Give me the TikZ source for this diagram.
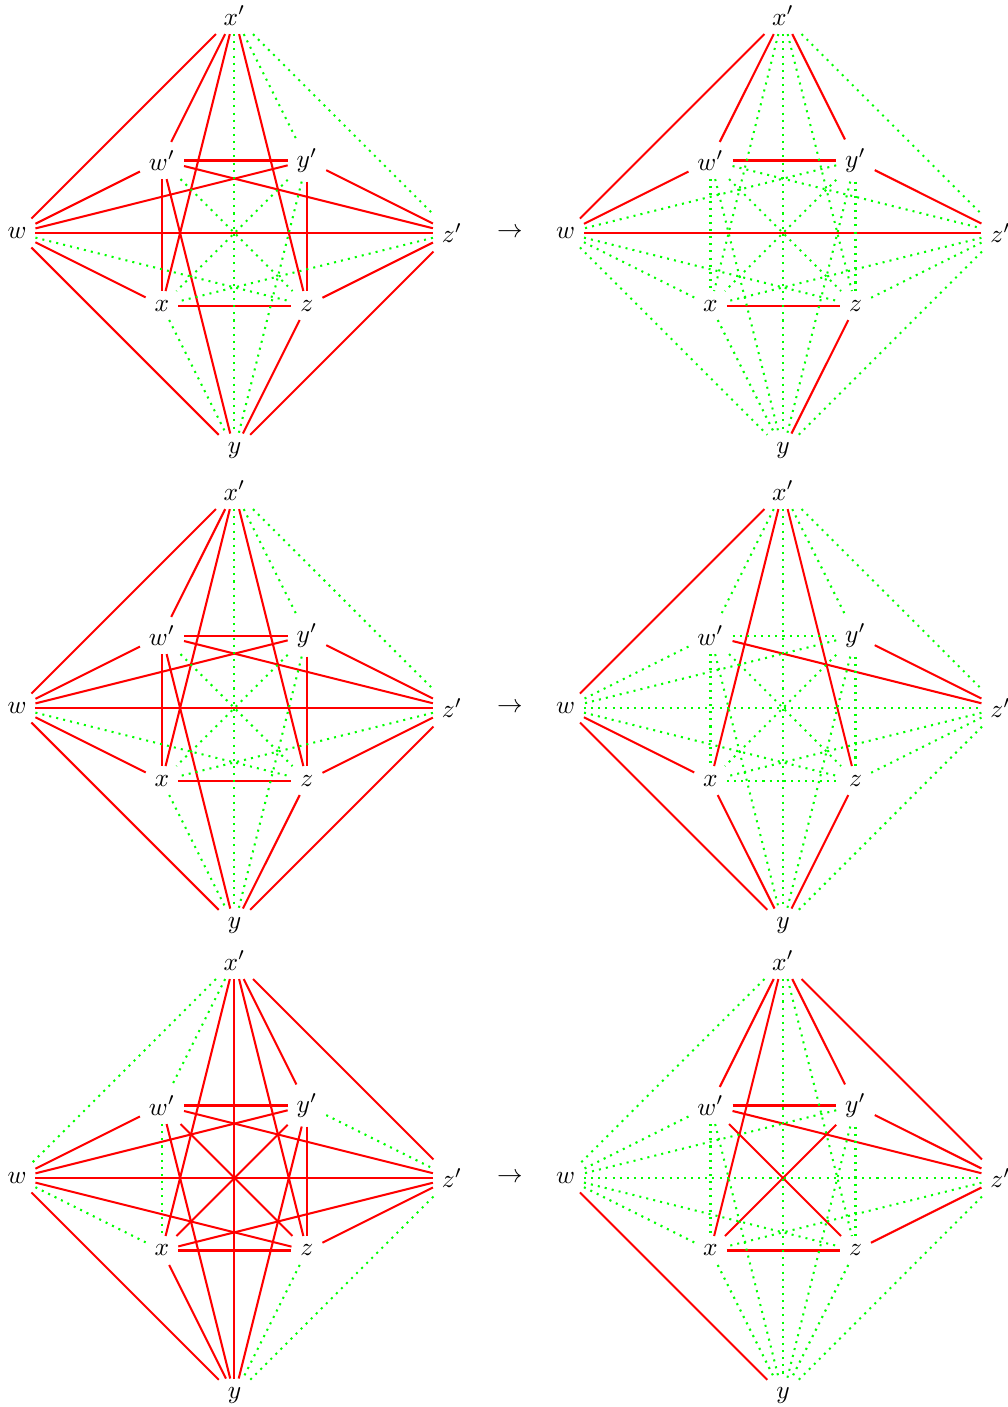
\documentclass[tikz,border=0pt]{standalone}
\usetikzlibrary{calc,positioning}
\tikzset{vtx/.style={inner sep=.3333em}}
\tikzset{rededge/.style={draw=red, line width=0.8pt}}
\tikzset{greenedge/.style={draw=green, line width=0.8pt, dotted}}
% eight vertices of one graph, #1 = prefix, #2,#3 = centre
\newcommand{\octa}[3]{%
  \begin{scope}[shift={(#2,#3)}]
    \node[vtx] (#1xp) at (0,3) {$x'$};
    \node[vtx] (#1wp) at (-1,1) {$w'$};
    \node[vtx] (#1yp) at (1,1) {$y'$};
    \node[vtx] (#1w) at (-3,0) {$w$};
    \node[vtx] (#1zp) at (3,0) {$z'$};
    \node[vtx] (#1x) at (-1,-1) {$x$};
    \node[vtx] (#1z) at (1,-1) {$z$};
    \node[vtx] (#1y) at (0,-3) {$y$};
  \end{scope}}
\newcommand{\redges}[2]{\foreach \a/\b in #2 \draw[rededge] (#1\a) -- (#1\b);}
\newcommand{\gedges}[2]{\foreach \a/\b in #2 \draw[greenedge] (#1\a) -- (#1\b);}
% edge lists
\def\redA{xp/wp, xp/w, xp/x, xp/z, wp/yp, wp/w, wp/zp, wp/x, wp/y, yp/w, yp/zp, yp/z, w/zp, w/x, w/y, zp/z, zp/y, x/z, z/y}
\def\greenA{xp/yp, xp/zp, xp/y, wp/z, yp/x, yp/y, w/z, zp/x, x/y}
\def\redB{xp/wp, xp/yp, xp/w, wp/yp, wp/w, yp/zp, w/zp, x/z, z/y}
\def\greenB{xp/zp, xp/x, xp/z, xp/y, wp/zp, wp/x, wp/z, wp/y, yp/w, yp/x, yp/z, yp/y, w/x, w/z, w/y, zp/x, zp/z, zp/y, x/y}
\def\redD{xp/w, xp/x, xp/z, wp/zp, yp/zp, w/x, w/y, x/y, z/y}
\def\greenD{xp/wp, xp/yp, xp/zp, xp/y, wp/yp, wp/w, wp/x, wp/z, wp/y, yp/w, yp/x, yp/z, yp/y, w/zp, w/z, zp/x, zp/z, zp/y, x/z}
\def\redE{xp/yp, xp/zp, xp/x, xp/z, xp/y, wp/yp, wp/w, wp/zp, wp/z, wp/y, yp/w, yp/x, yp/z, yp/y, w/zp, w/z, w/y, zp/x, zp/z, x/z, x/y}
\def\greenE{xp/wp, xp/w, wp/x, yp/zp, w/x, zp/y, z/y}
\def\redF{xp/wp, xp/yp, xp/zp, xp/x, wp/yp, wp/zp, wp/z, yp/zp, yp/x, w/y, zp/z, x/z}
\def\greenF{xp/w, xp/z, xp/y, wp/w, wp/x, wp/y, yp/w, yp/z, yp/y, w/zp, w/x, w/z, zp/x, zp/y, x/y, z/y}

\begin{document}
\begin{tikzpicture}
  \useasboundingbox (0,0) rectangle (13.903,-19.407);

  % first row
  \octa{A}{3.234}{-3.214}
  \octa{B}{10.800}{-3.214}
  \node (arr1) at (7.034,-3.214) {$\to$};
  \redges{A}{\redA}
  \gedges{A}{\greenA}
  \redges{B}{\redB}
  \gedges{B}{\greenB}

  % second row
  \octa{C}{3.234}{-9.766}
  \octa{D}{10.800}{-9.766}
  \node (arr2) at (7.034,-9.766) {$\to$};
  \redges{C}{\redA}
  \gedges{C}{\greenA}
  \redges{D}{\redD}
  \gedges{D}{\greenD}

  % third row
  \octa{E}{3.234}{-16.248}
  \octa{F}{10.800}{-16.248}
  \node (arr3) at (7.034,-16.248) {$\to$};
  \redges{E}{\redE}
  \gedges{E}{\greenE}
  \redges{F}{\redF}
  \gedges{F}{\greenF}
\end{tikzpicture}
\end{document}
